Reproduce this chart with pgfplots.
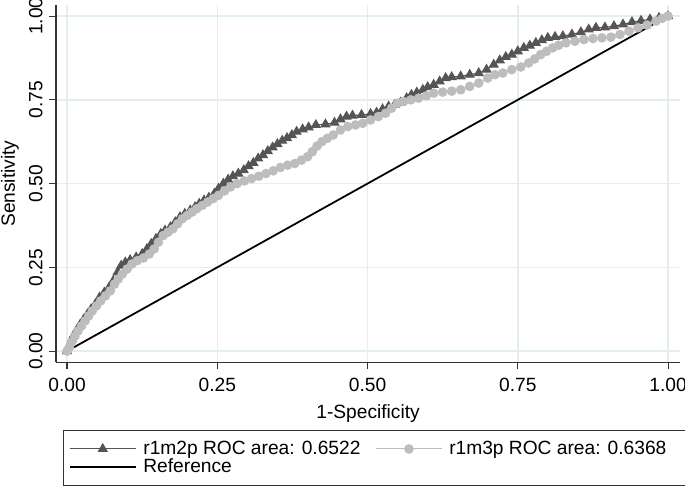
\documentclass[border=0pt]{standalone}
\usepackage{pgfplots}
\pgfplotsset{compat=1.18}
\usepackage{fontspec}
\setmainfont{Liberation Sans}
\definecolor{darkser}{HTML}{555555}
\definecolor{lightser}{HTML}{BDBDBD}
\definecolor{gridc}{HTML}{E3EEEE}
\definecolor{axc}{HTML}{333333}

\begin{document}
\fontsize{14}{16}\selectfont
\begin{tikzpicture}
\path[use as bounding box] (-40.9pt,-92.7pt) rectangle (459.1pt,264.3pt);
\begin{axis}[
  at={(0,0)}, anchor=south west,
  width=455.5pt, height=260.6pt, scale only axis,
  xmin=-0.0183, xmax=1.02, ymin=-0.0328, ymax=1.0328,
  axis x line*=bottom, axis y line*=left,
  axis line style={-, axc, line width=0.8pt},
  xtick={0,0.25,0.5,0.75,1}, ytick={0,0.25,0.5,0.75,1},
  xticklabels={0.00,0.25,0.50,0.75,1.00},
  yticklabels={0.00,0.25,0.50,0.75,1.00},
  tick align=outside, major tick length=5pt,
  tick style={axc, line width=0.8pt},
  grid=major, major grid style={gridc, line width=1.1pt},
  ticklabel style={font=\fontsize{14}{16}\selectfont},
  xticklabel style={yshift=-2pt},
  yticklabel style={rotate=90, anchor=south},
  xlabel={1-Specificity}, ylabel={Sensitivity},
  label style={font=\fontsize{14}{16}\selectfont},
  xlabel style={at={(axis description cs:0.5,-0.145)}, anchor=center},
  ylabel style={at={(axis description cs:-0.0738,0.5)}, anchor=center, rotate=0},
  legend columns=2,
  legend cell align=left,
  legend style={at={(axis description cs:0.0112,-0.1903)}, anchor=north west,
    draw=axc, line width=0.7pt, inner xsep=4pt, inner ysep=6.5pt,
    font=\fontsize{14}{16}\selectfont,
    nodes={inner ysep=1pt},
    column sep=3pt, row sep=-0.7pt,
    /tikz/every even column/.append style={column sep=9pt}},
  legend image code/.code={\draw[mark repeat=2,mark phase=2,#1] plot coordinates {(0pt,0pt) (24pt,0pt) (48pt,0pt)};},
]
\addplot[darkser, line width=0.8pt, mark=triangle*, mark size=3.6pt, mark options={solid, fill=darkser, draw=darkser}] coordinates {
(0,0) (0.004,0.018) (0.008,0.036) (0.012,0.05) (0.017,0.065) (0.022,0.08) (0.028,0.095) (0.034,0.11) (0.04,0.125) (0.047,0.14)
(0.054,0.16) (0.062,0.175) (0.07,0.19) (0.077,0.21) (0.084,0.235) (0.09,0.255) (0.097,0.265) (0.105,0.272) (0.115,0.28) (0.125,0.29)
(0.133,0.305) (0.14,0.32) (0.148,0.335) (0.156,0.35) (0.163,0.36) (0.172,0.37) (0.18,0.385) (0.188,0.4) (0.196,0.41) (0.205,0.42)
(0.213,0.43) (0.22,0.44) (0.228,0.45) (0.236,0.458) (0.245,0.47) (0.252,0.485) (0.26,0.5) (0.268,0.512) (0.276,0.522) (0.285,0.53)
(0.294,0.54) (0.302,0.552) (0.31,0.562) (0.318,0.575) (0.326,0.585) (0.334,0.597) (0.342,0.608) (0.35,0.618) (0.358,0.628) (0.366,0.636)
(0.374,0.645) (0.382,0.655) (0.392,0.662) (0.402,0.668) (0.414,0.675) (0.43,0.677) (0.445,0.682) (0.455,0.692) (0.465,0.7) (0.475,0.703)
(0.49,0.705) (0.505,0.708) (0.515,0.712) (0.525,0.722) (0.535,0.73) (0.545,0.735) (0.555,0.742) (0.565,0.755) (0.573,0.765) (0.582,0.772)
(0.592,0.78) (0.6,0.788) (0.61,0.795) (0.62,0.805) (0.63,0.815) (0.64,0.818) (0.655,0.82) (0.67,0.825) (0.685,0.83) (0.698,0.84)
(0.71,0.855) (0.72,0.868) (0.73,0.878) (0.74,0.885) (0.75,0.895) (0.76,0.905) (0.77,0.912) (0.78,0.92) (0.79,0.928) (0.8,0.935)
(0.812,0.938) (0.825,0.94) (0.84,0.945) (0.855,0.952) (0.868,0.96) (0.88,0.965) (0.895,0.966) (0.91,0.97) (0.925,0.975) (0.94,0.982)
(0.955,0.986) (0.97,0.99) (0.985,0.995) (1,1)
};
\addlegendentry{r1m2p ROC area: 0.6522}
\addplot[lightser, line width=0.8pt, mark=*, mark size=3.1pt, mark options={solid, fill=lightser, draw=lightser}] coordinates {
(0,0) (0.004,0.012) (0.008,0.028) (0.013,0.045) (0.018,0.06) (0.024,0.075) (0.03,0.09) (0.036,0.105) (0.042,0.12) (0.049,0.135)
(0.056,0.15) (0.064,0.165) (0.072,0.18) (0.079,0.2) (0.085,0.215) (0.092,0.23) (0.1,0.245) (0.108,0.26) (0.117,0.27) (0.127,0.278)
(0.137,0.29) (0.145,0.305) (0.152,0.325) (0.16,0.345) (0.168,0.355) (0.176,0.365) (0.184,0.38) (0.192,0.395) (0.2,0.405) (0.208,0.415)
(0.216,0.425) (0.225,0.435) (0.234,0.445) (0.243,0.455) (0.252,0.465) (0.262,0.478) (0.272,0.49) (0.283,0.5) (0.295,0.508) (0.307,0.515)
(0.319,0.522) (0.331,0.53) (0.343,0.538) (0.355,0.548) (0.367,0.555) (0.379,0.56) (0.39,0.57) (0.4,0.58) (0.408,0.595) (0.416,0.612)
(0.424,0.625) (0.433,0.635) (0.443,0.645) (0.455,0.66) (0.467,0.67) (0.48,0.675) (0.492,0.68) (0.505,0.69) (0.518,0.7) (0.53,0.71)
(0.54,0.725) (0.55,0.74) (0.56,0.745) (0.572,0.75) (0.585,0.755) (0.598,0.762) (0.61,0.77) (0.625,0.773) (0.64,0.776) (0.655,0.78)
(0.67,0.79) (0.685,0.8) (0.7,0.815) (0.712,0.825) (0.725,0.83) (0.74,0.84) (0.755,0.848) (0.768,0.86) (0.778,0.872) (0.788,0.885)
(0.798,0.895) (0.808,0.905) (0.818,0.913) (0.83,0.92) (0.845,0.925) (0.86,0.93) (0.875,0.933) (0.89,0.935) (0.905,0.937) (0.92,0.945)
(0.935,0.955) (0.95,0.965) (0.965,0.973) (0.98,0.985) (0.99,0.993) (1,1)
};
\addlegendentry{r1m3p ROC area: 0.6368\hspace*{14pt}}
\addplot[black, line width=1.3pt, mark=none] coordinates {(0,0) (1,1)};
\addlegendentry{Reference}
\end{axis}
\end{tikzpicture}
\end{document}
